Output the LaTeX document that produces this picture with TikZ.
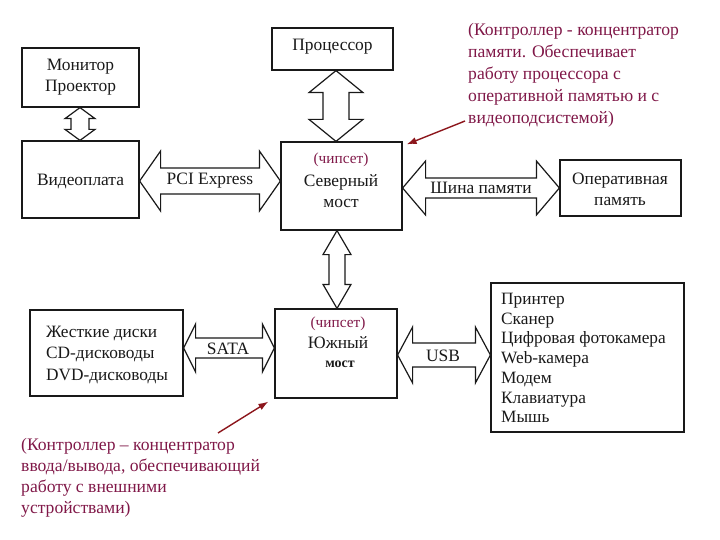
\documentclass[tikz,border=0pt]{standalone}
\usepackage{fontspec}
\setmainfont{Liberation Serif}
\usetikzlibrary{calc,arrows.meta}
\definecolor{annot}{RGB}{128,24,72}
\definecolor{arr}{RGB}{140,22,28}
\definecolor{ink}{RGB}{25,25,25}
% horizontal double arrow: #1 left anchor, #2 right anchor, #3 y, #4 shaft half, #5 head half, #6 head length
\newcommand\hdbl[6]{%
  \draw[bus] (#1 |- 0,#3) -- ++(#6,-#5) -- ++(0,#5-#4) -- ($(#2 |- 0,#3)+(-#6,-#4)$) -- ++(0,#4-#5)
    -- (#2 |- 0,#3) -- ++(-#6,#5) -- ++(0,#4-#5) -- ($(#1 |- 0,#3)+(#6,#4)$) -- ++(0,#5-#4) -- cycle;}
% vertical double arrow: #1 top anchor, #2 bottom anchor, #3 x, #4 shaft half, #5 head half, #6 head length
\newcommand\vdbl[6]{%
  \draw[bus] (#1 -| #3,0) -- ++(-#5,#6) -- ++(#5-#4,0) -- ($(#2 -| #3,0)+(-#4,-#6)$) -- ++(#4-#5,0)
    -- (#2 -| #3,0) -- ++(#5,-#6) -- ++(#4-#5,0) -- ($(#1 -| #3,0)+(#4,#6)$) -- ++(#5-#4,0) -- cycle;}
\begin{document}
\begin{tikzpicture}[x=1pt,y=-1pt,
  box/.style={draw=ink, line width=1.2pt, inner sep=0pt},
  bus/.style={draw=ink, line width=1.2pt, fill=white, line join=miter},
  txt/.style={text=ink, font=\fontsize{17.4}{21}\selectfont, inner sep=0pt, align=center},
  lst/.style={text=ink, font=\fontsize{17.3}{19.7}\selectfont, inner sep=0pt, align=left},
  chip/.style={text=annot, font=\fontsize{15.3}{18}\selectfont, inner sep=0pt},
  ann/.style={text=annot, font=\fontsize{17.6}{22}\selectfont, inner sep=0pt, align=left},
  pointer/.style={draw=arr, line width=1.4pt, -{Latex[length=10pt,width=7pt]}}]
\useasboundingbox (0,0) rectangle (720,540);

% boxes
\node[box, minimum width=117pt, minimum height=59pt] (mon) at (80.5,77.5) {};
\node[box, minimum width=117pt, minimum height=77pt] (vid) at (80.5,179.5) {};
\node[box, minimum width=121pt, minimum height=42pt] (cpu) at (332.5,49) {};
\node[box, minimum width=121pt, minimum height=88pt] (nb) at (341.5,186) {};
\node[box, minimum width=121pt, minimum height=56pt] (ram) at (620.5,188) {};
\node[box, minimum width=153pt, minimum height=86pt] (hdd) at (106.5,353) {};
\node[box, minimum width=122pt, minimum height=89pt] (sb) at (336,353.5) {};
\node[box, minimum width=193pt, minimum height=149pt] (dev) at (587.5,357.5) {};

% box texts
\node[txt] (tmon) at (80.5,77.5) {Монитор\\Проектор};
\node[txt] (tvid) at (80.5,181) {Видеоплата};
\node[txt] (tcpu) at (332.5,47) {Процессор};
\node[chip] (chip1) at (341,160) {(чипсет)};
\node[txt] (tnb) at (341,191) {Северный\\мост};
\node[txt] (tram) at (620,189) {Оперативная\\память};
\node[lst, font=\fontsize{17.3}{21.5}\selectfont, anchor=west] (thdd) at (46,355) {Жесткие диски\\CD-дисководы\\DVD-дисководы};
\node[chip] (chip2) at (338,324) {(чипсет)};
\node[txt] (tsb) at (338,343) {Южный};
\node[text=ink, font=\fontsize{14}{16}\selectfont\bfseries, inner sep=0pt] (tsb2) at (340,364) {мост};
\node[lst, anchor=west] (tdev) at (501,358) {Принтер\\Сканер\\Цифровая фотокамера\\Web-камера\\Модем\\Клавиатура\\Мышь};

% buses
\vdbl{mon.south}{vid.north}{80}{9}{15}{11}
\hdbl{vid.east}{nb.west}{181}{13}{30}{21}
\vdbl{cpu.south}{nb.north}{336}{13}{27}{22}
\hdbl{nb.east}{ram.west}{188}{10}{27}{23}
\vdbl{nb.south}{sb.north}{337}{8}{14}{24}
\hdbl{hdd.east}{sb.west}{348}{10}{24}{12}
\hdbl{sb.east}{dev.west}{355}{12}{28}{15}

% bus labels
\node[txt] (lpci) at (210,181) {PCI Express};
\node[txt] (lmem) at (481,188) {Шина памяти};
\node[txt] (lsata) at (228,349) {SATA};
\node[txt] (lusb) at (443,356) {USB};

% annotations
\node[ann, anchor=north west] (ann1) at (468,23) {(Контроллер - концентратор\\памяти. Обеспечивает\\работу процессора с\\оперативной памятью и с\\видеоподсистемой)};
\node[ann, font=\fontsize{17.6}{21}\selectfont, anchor=north west] (ann2) at (21,438) {(Контроллер – концентратор\\ввода/вывода, обеспечивающий\\работу с внешними\\устройствами)};
\coordinate (p1) at (465,121);
\coordinate (p2) at (218,433);
\draw[pointer] (p1) -- ($(nb.north east)+(4,3)$);
\draw[pointer] (p2) -- ($(sb.south west)+(-6,3)$);
\end{tikzpicture}
\end{document}
